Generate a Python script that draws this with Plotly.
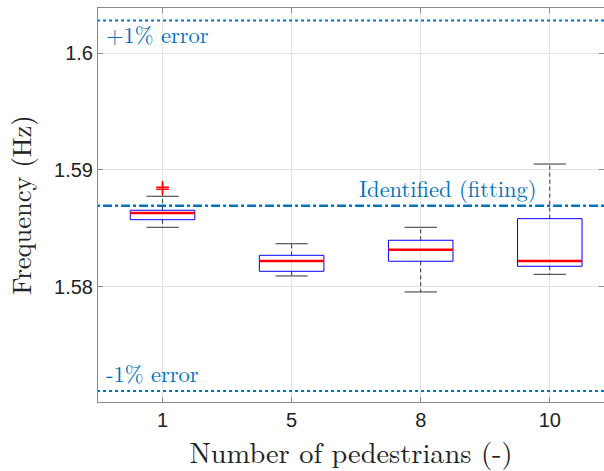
import plotly.graph_objects as go

# ---- data ----
categories = ["1", "5", "8", "10"]
q1 = [1.58574, 1.58132, 1.58218, 1.58175]
median = [1.58632, 1.58220, 1.58317, 1.58220]
q3 = [1.58655, 1.58269, 1.58398, 1.58583]
lower_whisker = [1.58509, 1.58092, 1.57955, 1.58106]
upper_whisker = [1.58775, 1.58368, 1.58509, 1.59051]
outlier_cat = ["1", "1"]
outlier_val = [1.58852, 1.58836]
identified = 1.58694
err_pct = 1.0

pos = {c: i + 1 for i, c in enumerate(categories)}
box_half = 0.25
cap_half = 0.125

fig = go.Figure()

BLUE = "#0072BD"
serif = "Latin Modern Roman, CMU Serif, DejaVu Serif, serif"

# reference lines
x_line = [0.4, 4.6]
up = identified * (1 + err_pct / 100)
lo = identified * (1 - err_pct / 100)
fig.add_trace(go.Scatter(x=x_line, y=[up, up], mode="lines",
                         line=dict(color=BLUE, width=2, dash="dot"), hoverinfo="skip"))
fig.add_trace(go.Scatter(x=x_line, y=[lo, lo], mode="lines",
                         line=dict(color=BLUE, width=2, dash="dot"), hoverinfo="skip"))
fig.add_trace(go.Scatter(x=x_line, y=[identified, identified], mode="lines",
                         line=dict(color=BLUE, width=2.5, dash="dashdot"), hoverinfo="skip"))

for i, c in enumerate(categories):
    x0 = pos[c]
    # whiskers (dashed)
    fig.add_trace(go.Scatter(x=[x0, x0, None, x0, x0],
                             y=[q3[i], upper_whisker[i], None, q1[i], lower_whisker[i]],
                             mode="lines", line=dict(color="#333333", width=1, dash="4px,3px"),
                             hoverinfo="skip"))
    # caps
    fig.add_trace(go.Scatter(x=[x0 - cap_half, x0 + cap_half, None, x0 - cap_half, x0 + cap_half],
                             y=[upper_whisker[i], upper_whisker[i], None, lower_whisker[i], lower_whisker[i]],
                             mode="lines", line=dict(color="#333333", width=1), hoverinfo="skip"))
    # box
    fig.add_trace(go.Scatter(x=[x0 - box_half, x0 + box_half, x0 + box_half, x0 - box_half, x0 - box_half],
                             y=[q1[i], q1[i], q3[i], q3[i], q1[i]],
                             mode="lines", line=dict(color="#0000FF", width=1), hoverinfo="skip"))
    # median
    fig.add_trace(go.Scatter(x=[x0 - box_half, x0 + box_half], y=[median[i], median[i]],
                             mode="lines", line=dict(color="#FF0000", width=2.5), hoverinfo="skip"))

fig.add_trace(go.Scatter(x=[pos[c] for c in outlier_cat], y=outlier_val, mode="markers",
                         marker=dict(symbol="cross-thin", size=9, line=dict(color="#FF0000", width=1.5)),
                         hoverinfo="skip"))

fig.add_annotation(x=0.5, y=up, xref="x", yref="y", text="+1% error", showarrow=False,
                   xanchor="left", yanchor="top", xshift=6, yshift=4,
                   font=dict(family=serif, size=22.5, color=BLUE))
fig.add_annotation(x=0.5, y=lo, xref="x", yref="y", text="-1% error", showarrow=False,
                   xanchor="left", yanchor="bottom", xshift=6, yshift=0,
                   font=dict(family=serif, size=22.5, color=BLUE))
fig.add_annotation(x=3.92, y=identified, xref="x", yref="y", text="Identified (fitting)", showarrow=False,
                   xanchor="right", yanchor="bottom", yshift=0,
                   font=dict(family=serif, size=22.5, color=BLUE))

fig.update_layout(
    width=604, height=471,
    margin=dict(l=98, r=0, t=8, b=69),
    paper_bgcolor="white", plot_bgcolor="white",
    showlegend=False,
    font=dict(family="Liberation Sans, Arial, sans-serif", size=20, color="#222222"),
)
fig.update_xaxes(
    range=[0.5, 4.42], tickmode="array", tickvals=[pos[c] for c in categories], ticktext=categories,
    showgrid=True, gridcolor="#e3e3e3", gridwidth=1,
    showline=True, linecolor="#8a8a8a", linewidth=1, mirror="allticks",
    ticks="inside", ticklen=5, tickcolor="#8a8a8a", zeroline=False,
    title=dict(text="Number of pedestrians (-)", font=dict(family=serif, size=28.4, color="#222222"), standoff=6),
)
fig.update_yaxes(
    range=[1.57012, 1.60388], tickmode="array", tickvals=[1.58, 1.59, 1.60], ticktext=["1.58", "1.59", "1.6"],
    showgrid=True, gridcolor="#e3e3e3", gridwidth=1,
    showline=True, linecolor="#8a8a8a", linewidth=1, mirror="allticks",
    ticks="inside", ticklen=5, tickcolor="#8a8a8a", zeroline=False,
    title=dict(text="Frequency (Hz)", font=dict(family=serif, size=26.5, color="#222222"), standoff=14),
)

fig.write_html("out.html")
